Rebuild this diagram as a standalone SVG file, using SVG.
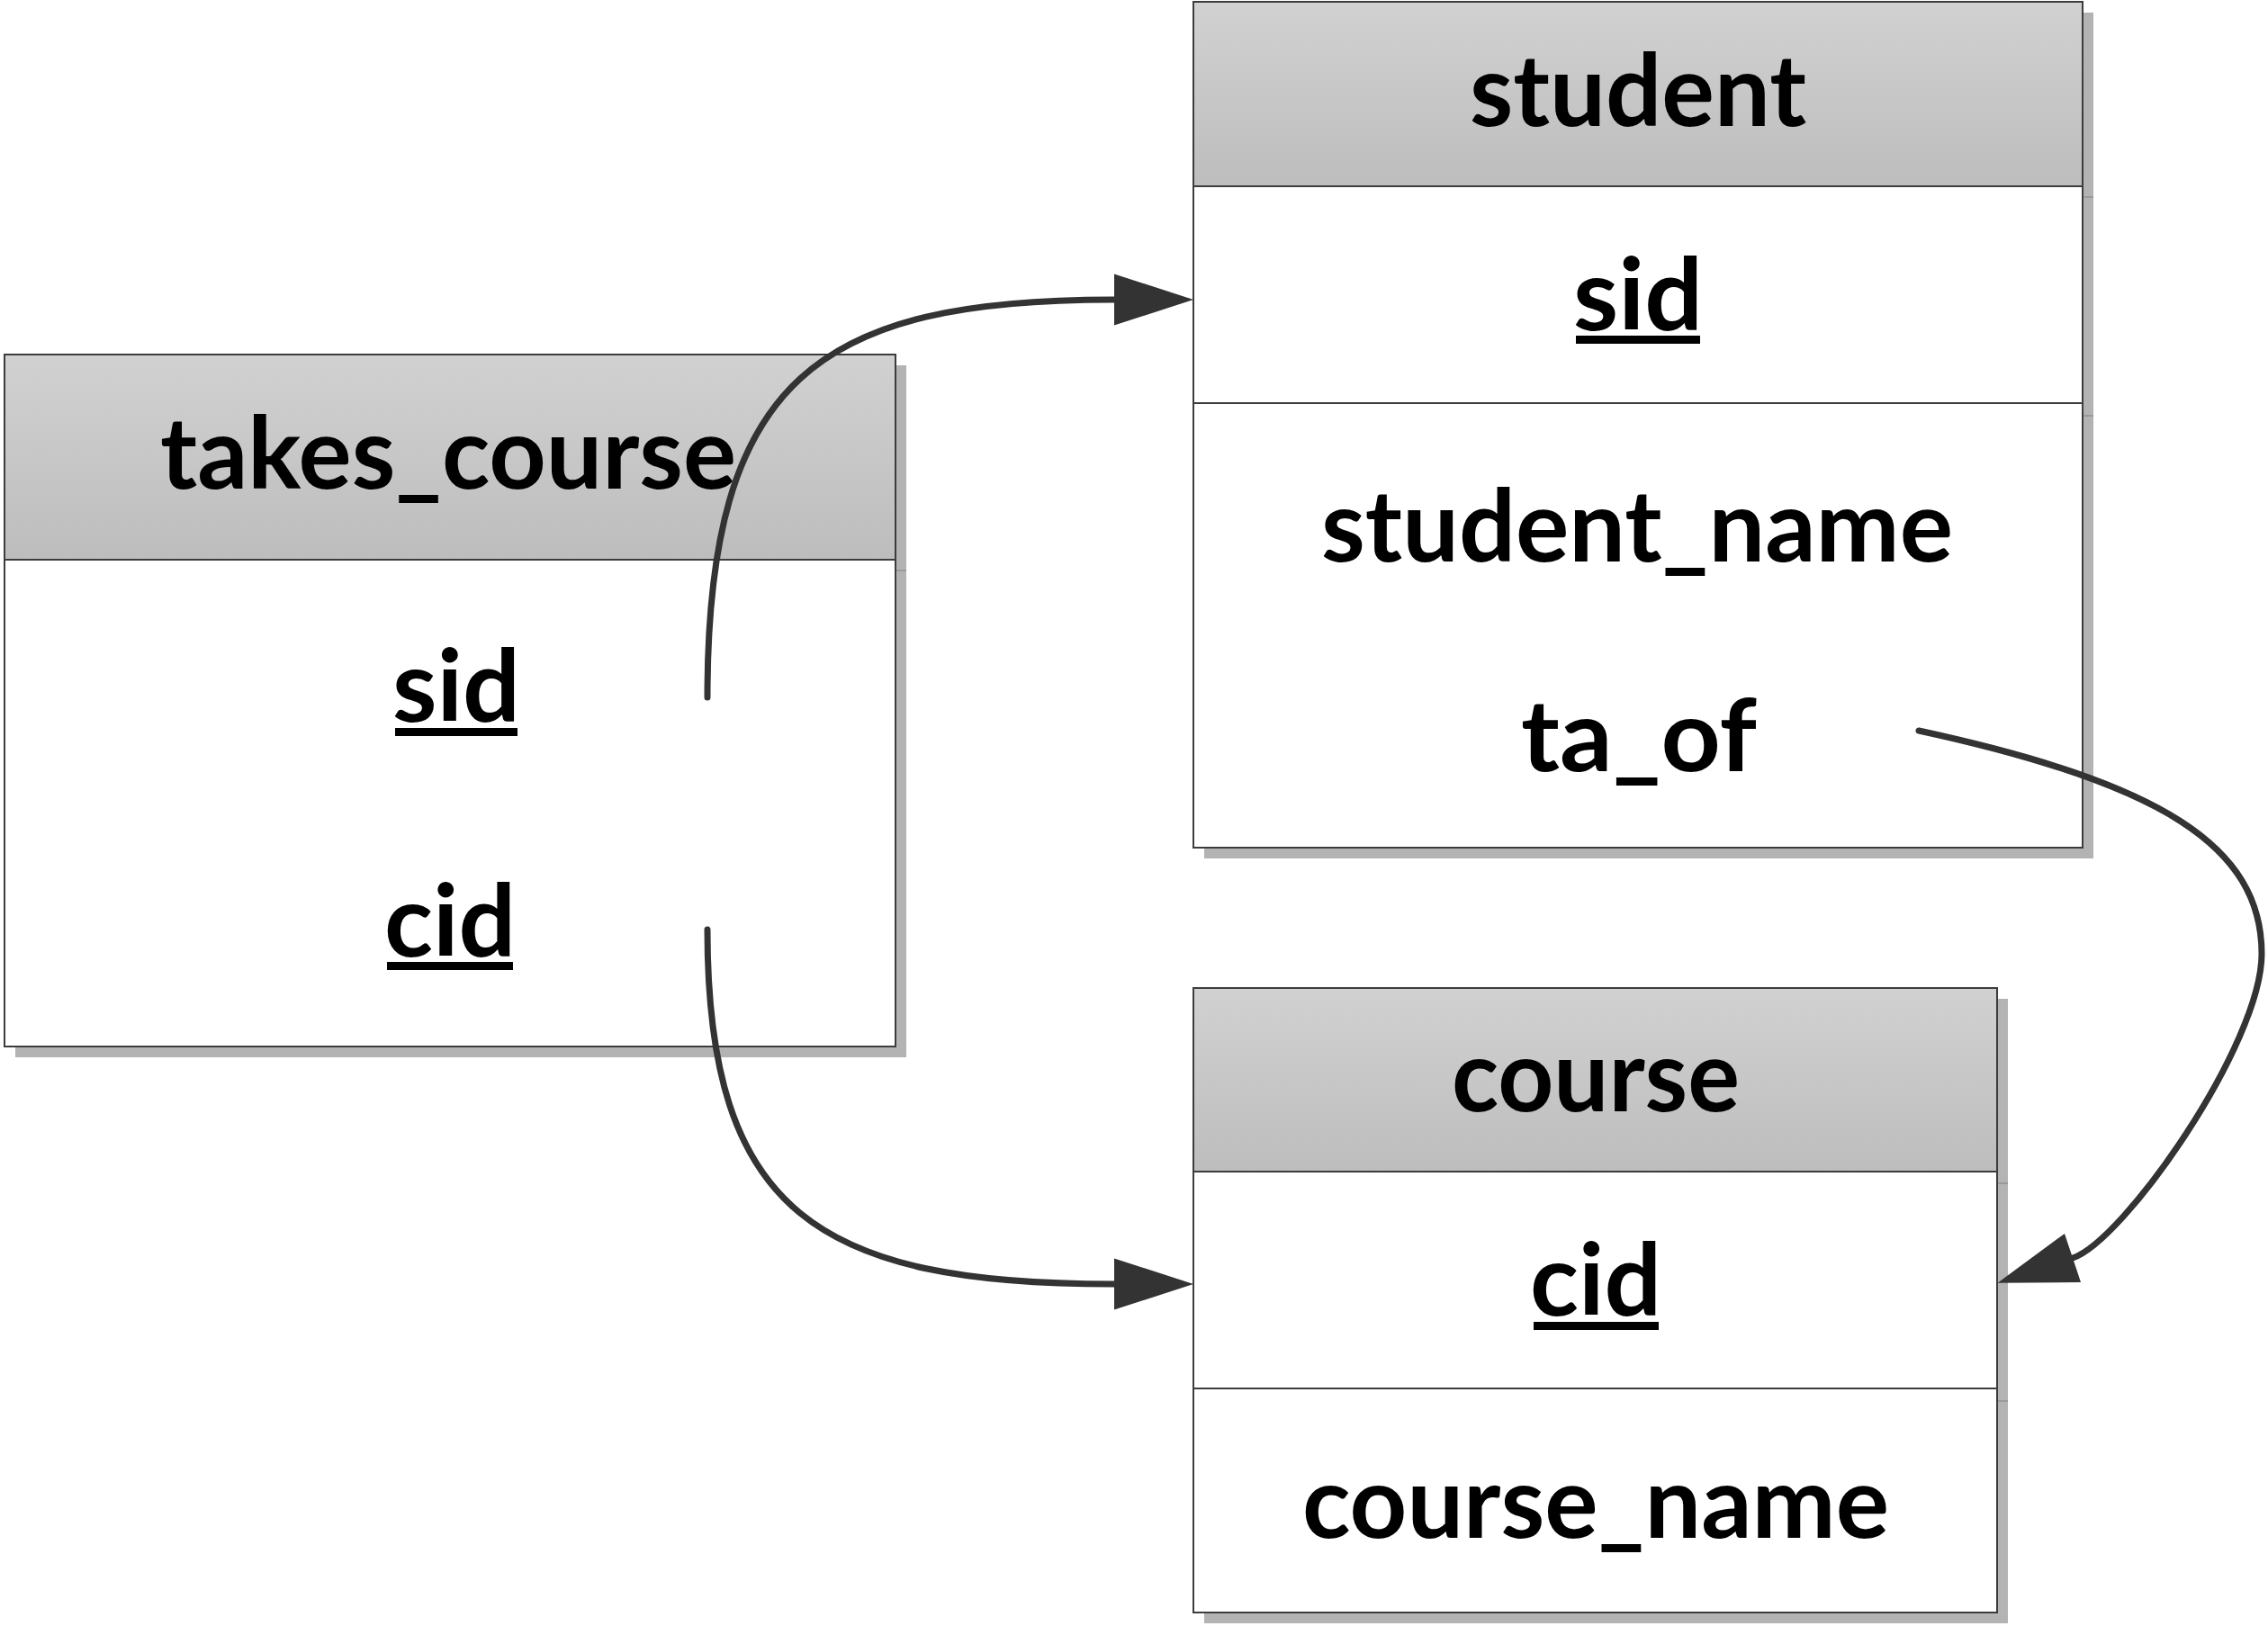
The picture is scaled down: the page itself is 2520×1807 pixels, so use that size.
<svg xmlns="http://www.w3.org/2000/svg" width="2520" height="1807" viewBox="0 0 2520 1807">
<defs>
<linearGradient id="hdr" x1="0" y1="0" x2="0" y2="1">
<stop offset="0" stop-color="#d1d1d1"/>
<stop offset="1" stop-color="#bdbdbd"/>
</linearGradient>
<marker id="arrow" markerUnits="userSpaceOnUse" markerWidth="90" markerHeight="58" refX="0" refY="28.5" orient="auto" overflow="visible">
<path d="M0,0 L88,28.5 L0,57 Z" fill="#333333"/>
</marker>
<style>
.shadow{fill:#b3b3b3}
.shline{stroke:#9a9a9a;stroke-width:2}
.box{fill:#ffffff;stroke:#3c3c3c;stroke-width:2}
.head{fill:url(#hdr);stroke:#3c3c3c;stroke-width:2}
.div{stroke:#3c3c3c;stroke-width:2}
.t{font-family:Lato,"Open Sans","Liberation Sans",sans-serif;font-weight:700;font-size:112px;fill:#000000;text-anchor:middle}
.ul{fill:#000000}
.conn{fill:none;stroke:#333333;stroke-width:7;stroke-linecap:round}
</style>
</defs>
<rect width="2520" height="1807" fill="#ffffff"/>

<g id="node-takes_course">
<rect class="shadow" x="17" y="406" width="990" height="769"/>
<line class="shline" x1="995" y1="634" x2="1007" y2="634"/>
<rect class="box" x="5" y="394" width="990" height="769"/>
<rect class="head" x="5" y="394" width="990" height="228"/>
<text class="t" x="498" y="543" textLength="640" lengthAdjust="spacingAndGlyphs">takes_course</text>
<text class="t" x="507" y="802" textLength="142" lengthAdjust="spacingAndGlyphs">sid</text>
<rect class="ul" x="439" y="809" width="136" height="9"/>
<text class="t" x="500" y="1063" textLength="146" lengthAdjust="spacingAndGlyphs">cid</text>
<rect class="ul" x="430" y="1069" width="140" height="9"/>
</g>

<g id="node-student">
<rect class="shadow" x="1338" y="14" width="988" height="940"/>
<line class="shline" x1="2314" y1="219" x2="2326" y2="219"/>
<line class="shline" x1="2314" y1="462" x2="2326" y2="462"/>
<rect class="box" x="1326" y="2" width="988" height="940"/>
<rect class="head" x="1326" y="2" width="988" height="205"/>
<line class="div" x1="1326" y1="448" x2="2314" y2="448"/>
<text class="t" x="1820" y="140" textLength="374" lengthAdjust="spacingAndGlyphs">student</text>
<text class="t" x="1820" y="367" textLength="144" lengthAdjust="spacingAndGlyphs">sid</text>
<rect class="ul" x="1751" y="373" width="138" height="9"/>
<text class="t" x="1819" y="624" textLength="702" lengthAdjust="spacingAndGlyphs">student_name</text>
<text class="t" x="1821" y="857" textLength="262" lengthAdjust="spacingAndGlyphs">ta_of</text>
</g>

<g id="node-course">
<rect class="shadow" x="1338" y="1110" width="893" height="694"/>
<line class="shline" x1="2219" y1="1315" x2="2231" y2="1315"/>
<line class="shline" x1="2219" y1="1557" x2="2231" y2="1557"/>
<rect class="box" x="1326" y="1098" width="893" height="694"/>
<rect class="head" x="1326" y="1098" width="893" height="204"/>
<line class="div" x1="1326" y1="1543" x2="2219" y2="1543"/>
<text class="t" x="1773" y="1235" textLength="320" lengthAdjust="spacingAndGlyphs">course</text>
<text class="t" x="1773" y="1462" textLength="146" lengthAdjust="spacingAndGlyphs">cid</text>
<rect class="ul" x="1704" y="1469" width="139" height="9"/>
<text class="t" x="1773" y="1709" textLength="652" lengthAdjust="spacingAndGlyphs">course_name</text>
</g>

<g id="connectors">
<path class="conn" d="M786,775 C786,420 910,333 1238,333" marker-end="url(#arrow)"/>
<path class="conn" d="M786,1033 C786,1348 910,1427 1238,1427" marker-end="url(#arrow)"/>
<path class="conn" d="M2132,812 C2400,870 2513,940 2513,1060 C2513,1160 2360,1379 2303,1398" marker-end="url(#arrow)"/>
</g>
</svg>
